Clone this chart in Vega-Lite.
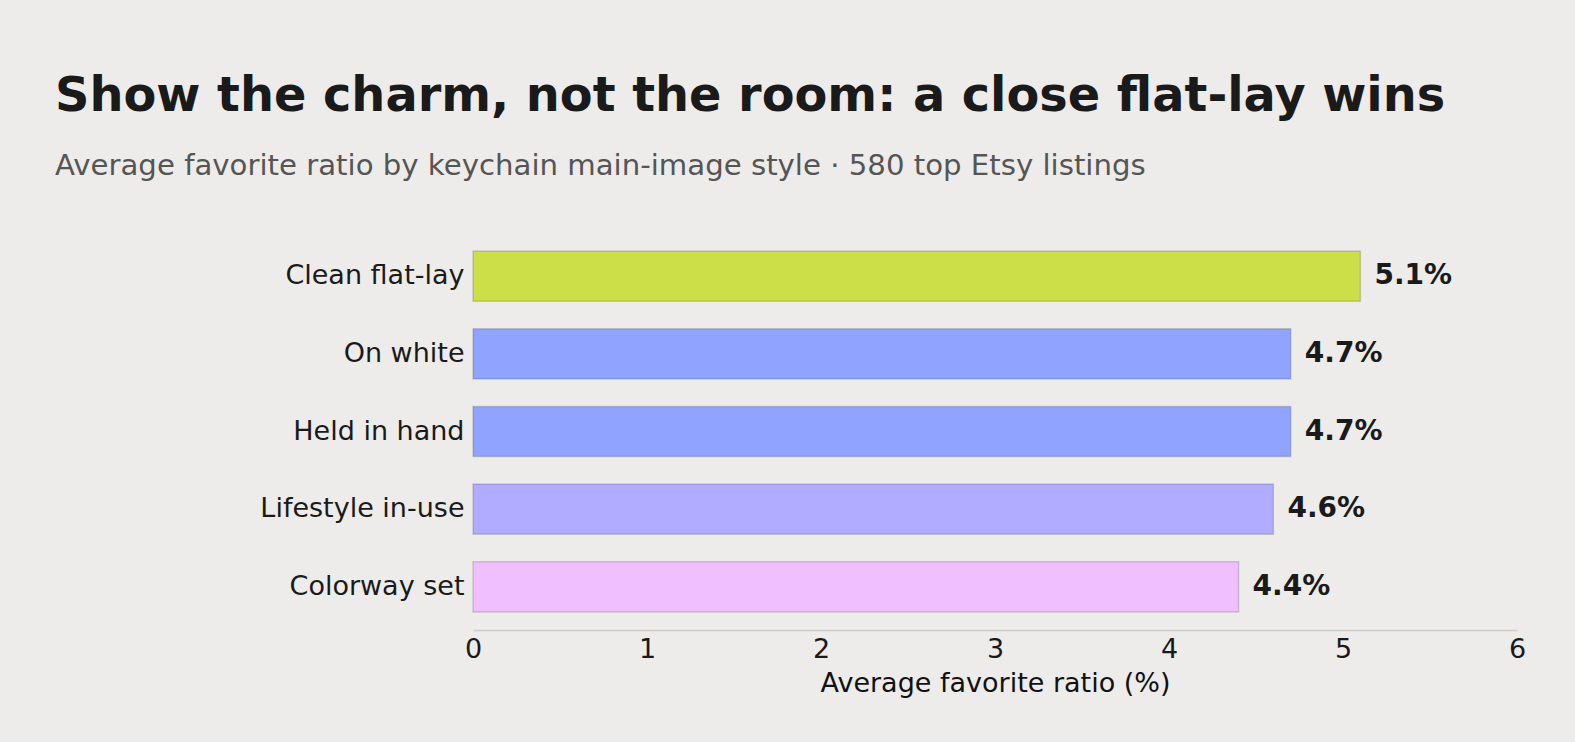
{
  "$schema": "https://vega.github.io/schema/vega-lite/v6.json",
  "autosize": {"type": "none"},
  "width": 1044,
  "height": 397,
  "padding": {"left": 473, "top": 233, "right": 58, "bottom": 112},
  "background": "#edecea",
  "title": {
    "text": "Show the charm, not the room: a close flat-lay wins",
    "subtitle": "Average favorite ratio by keychain main-image style · 580 top Etsy listings",
    "anchor": "start",
    "frame": "group",
    "dx": -418,
    "offset": 52,
    "font": "DejaVu Sans",
    "fontSize": 47.8,
    "fontWeight": "bold",
    "color": "#1a1a1a",
    "subtitleFont": "DejaVu Sans",
    "subtitleFontSize": 29.2,
    "subtitleColor": "#555555",
    "subtitlePadding": 31
  },
  "config": {
    "view": {"stroke": null},
    "font": "DejaVu Sans"
  },
  "data": {
    "values": [
      {"style": "Clean flat-lay", "ratio": 5.1},
      {"style": "On white", "ratio": 4.7},
      {"style": "Held in hand", "ratio": 4.7},
      {"style": "Lifestyle in-use", "ratio": 4.6},
      {"style": "Colorway set", "ratio": 4.4}
    ]
  },
  "transform": [
    {"calculate": "format(datum.ratio, '.1f') + '%'", "as": "label"}
  ],
  "encoding": {
    "y": {
      "field": "style",
      "type": "nominal",
      "sort": null,
      "scale": {"paddingInner": 0.353, "paddingOuter": 0.233},
      "axis": {
        "title": null,
        "domain": false,
        "ticks": false,
        "labelFont": "DejaVu Sans",
        "labelFontSize": 27,
        "labelColor": "#1a1a1a",
        "labelPadding": 9,
        "labelLimit": 420
      }
    },
    "x": {
      "field": "ratio",
      "type": "quantitative",
      "scale": {"domain": [0, 6], "nice": false},
      "axis": {
        "title": "Average favorite ratio (%)",
        "values": [0, 1, 2, 3, 4, 5, 6],
        "grid": false,
        "ticks": false,
        "labelFlush": false,
        "domainColor": "#cccccc",
        "domainWidth": 1.5,
        "labelFont": "DejaVu Sans",
        "labelFontSize": 27,
        "labelColor": "#1a1a1a",
        "labelPadding": 6,
        "titleFont": "DejaVu Sans",
        "titleFontSize": 27,
        "titleFontWeight": "normal",
        "titleColor": "#111111",
        "titlePadding": 8
      }
    }
  },
  "layer": [
    {
      "mark": {"type": "bar", "stroke": "#000000", "strokeOpacity": 0.15, "strokeWidth": 1.5},
      "encoding": {
        "color": {
          "field": "style",
          "type": "nominal",
          "legend": null,
          "scale": {
            "domain": ["Clean flat-lay", "On white", "Held in hand", "Lifestyle in-use", "Colorway set"],
            "range": ["#cddf48", "#90a4ff", "#90a4ff", "#b1acff", "#efbfff"]
          }
        }
      }
    },
    {
      "mark": {"type": "text", "align": "left", "baseline": "middle", "dx": 14, "font": "DejaVu Sans", "fontSize": 28, "fontWeight": "bold", "color": "#1a1a1a"},
      "encoding": {
        "text": {"field": "label"}
      }
    }
  ]
}
